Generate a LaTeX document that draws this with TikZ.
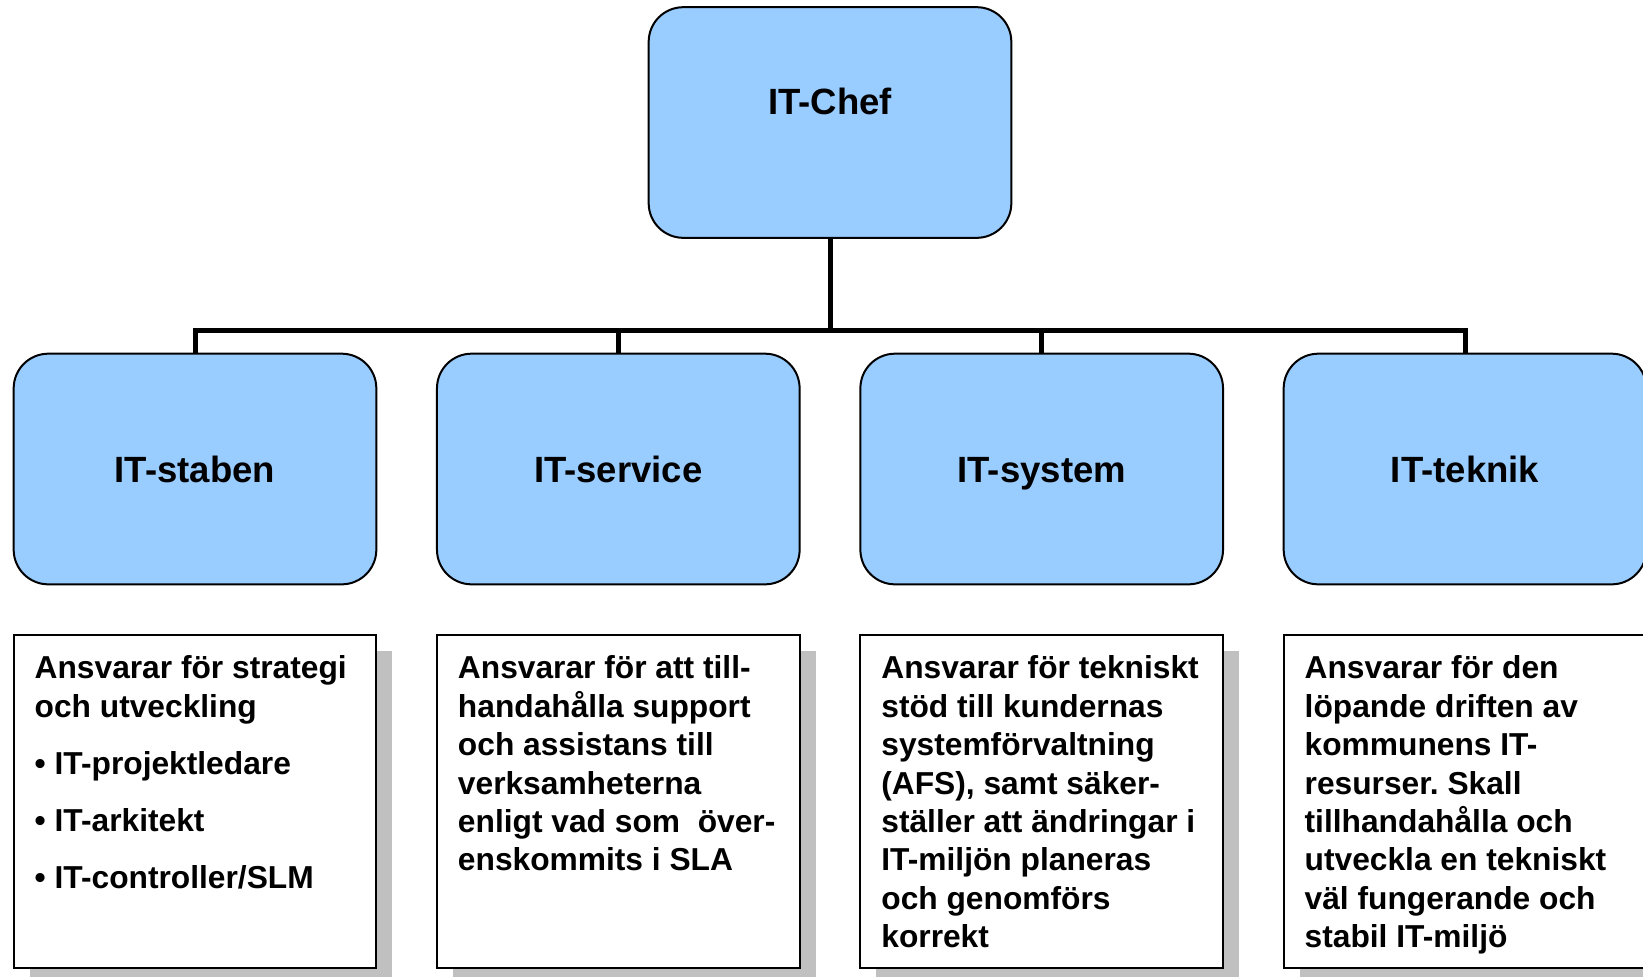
\documentclass[tikz,border=0pt]{standalone}
\usepackage{fontspec}
\setmainfont{Liberation Sans}
\usetikzlibrary{shadows}
\frenchspacing

\definecolor{unitblue}{RGB}{153,204,255}
\definecolor{shadowgray}{RGB}{192,192,192}

\tikzset{every picture/.style={line width=1.5pt}}
\tikzset{
  unit/.style={draw, fill=unitblue, rounded corners=26pt, minimum width=272pt, minimum height=173pt, inner sep=0pt, text height=20pt, text depth=0pt, font=\fontsize{27.4}{32}\selectfont\bfseries},
  unitname/.style={inner sep=0pt, text height=20pt, text depth=0pt, font=\fontsize{27.4}{32}\selectfont\bfseries},
  duty/.style={draw, fill=white, minimum width=272pt, minimum height=250pt, inner sep=0pt,
    drop shadow={shadow xshift=12pt, shadow yshift=-12pt, fill=shadowgray, opacity=1}},
  dutytext/.style={anchor=north west, inner sep=0pt, align=left, font=\fontsize{23.8}{28.8}\selectfont\bfseries},
  wire/.style={line width=3.75pt}
}

\begin{document}
\begin{tikzpicture}[x=0.75pt,y=0.75pt,yscale=-1,xscale=1]

\useasboundingbox (0,0) rectangle (1643,976);

% chef
\node [unit] (chef) at (830,122.5) {};
\node [unitname] (cheftext) at (830,101) {IT-Chef};

% units
\node [unit] (staben) at (195,469) {IT-staben};
\node [unit] (service) at (618.3,469) {IT-service};
\node [unit] (system) at (1041.7,469) {IT-system};
\node [unit] (teknik) at (1465,469) {IT-teknik};

% connectors
\coordinate (bus) at (830,330);
\draw [wire] (chef.south) -- (bus);
\draw [wire] (staben.north) -- (staben.north |- bus) -- (teknik.north |- bus) -- (teknik.north);
\draw [wire] (service.north) -- (service.north |- bus);
\draw [wire] (system.north) -- (system.north |- bus);

% duties
\node [duty] (stabenduty) at (195,801.5) {};
\node [duty] (serviceduty) at (618.3,801.5) {};
\node [duty] (systemduty) at (1041.7,801.5) {};
\node [duty] (teknikduty) at (1465,801.5) {};

\node [dutytext] (stabentext) at ([shift={(21,21)}]stabenduty.north west)
  {Ansvarar för strategi\\och utveckling\\[14pt]• IT-projektledare\\[14pt]• IT-arkitekt\\[14pt]• IT-controller/SLM};
\node [dutytext] (servicetext) at ([shift={(21,21)}]serviceduty.north west)
  {Ansvarar för att till-\\handahålla support\\och assistans till\\verksamheterna\\enligt vad som\ \ över-\\enskommits i SLA};
\node [dutytext] (systemtext) at ([shift={(21,21)}]systemduty.north west)
  {Ansvarar för tekniskt\\stöd till kundernas\\systemförvaltning\\(AFS), samt säker-\\ställer att ändringar i\\IT-miljön planeras\\och genomförs\\korrekt};
\node [dutytext] (tekniktext) at ([shift={(21,21)}]teknikduty.north west)
  {Ansvarar för den\\löpande driften av\\kommunens IT-\\resurser. Skall\\tillhandahålla och\\utveckla en tekniskt\\väl fungerande och\\stabil IT-miljö};

\end{tikzpicture}
\end{document}
